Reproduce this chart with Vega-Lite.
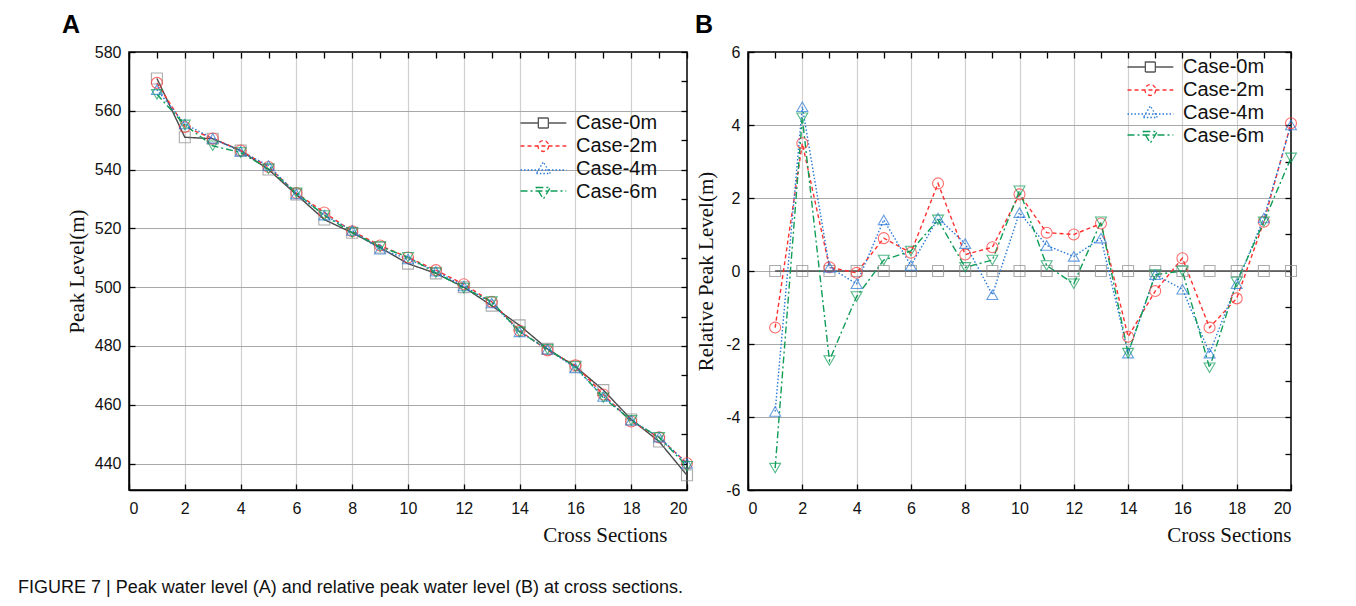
{
  "$schema": "https://vega.github.io/schema/vega-lite/v6.json",
  "background": "white",
  "padding": {"left": 18, "top": 12, "right": 10, "bottom": 6},
  "title": {"text": "FIGURE 7 | Peak water level (A) and relative peak water level (B) at cross sections.", "orient": "bottom", "anchor": "start", "font": "Liberation Sans", "fontSize": 18, "fontWeight": "normal", "color": "#111111", "offset": 33, "dx": -111},
  "config": {
    "view": {"stroke": "#000000", "strokeWidth": 1.5},
    "axis": {"labelFont": "Liberation Sans", "labelFontSize": 16, "labelColor": "#111111", "titleFont": "Liberation Serif", "titleFontSize": 21, "titleFontWeight": "normal", "titleColor": "#111111", "domainColor": "#000000", "domainWidth": 1.5, "tickColor": "#000000", "tickWidth": 1.3, "tickSize": -6, "gridWidth": 1.2},
    "axisX": {"labelPadding": 16, "titlePadding": 8},
    "axisY": {"labelPadding": 14},
    "legend": {"labelFont": "Liberation Sans", "labelFontSize": 20, "labelColor": "#111111", "symbolSize": 400, "symbolStrokeWidth": 1.3, "symbolOpacity": 1, "rowPadding": 2, "labelOffset": 34},
    "title": {"font": "Liberation Sans", "fontSize": 25, "fontWeight": "bold", "color": "#000000", "anchor": "start", "offset": 6, "frame": "group"}
  },
  "datasets": {
    "a": [
      {"section": 1, "case": "Case-0m", "level": 571}, {"section": 2, "case": "Case-0m", "level": 551}, {"section": 3, "case": "Case-0m", "level": 550.5}, {"section": 4, "case": "Case-0m", "level": 546.5}, {"section": 5, "case": "Case-0m", "level": 540}, {"section": 6, "case": "Case-0m", "level": 531.5}, {"section": 7, "case": "Case-0m", "level": 523}, {"section": 8, "case": "Case-0m", "level": 518.5}, {"section": 9, "case": "Case-0m", "level": 513.5}, {"section": 10, "case": "Case-0m", "level": 508}, {"section": 11, "case": "Case-0m", "level": 504.7}, {"section": 12, "case": "Case-0m", "level": 500}, {"section": 13, "case": "Case-0m", "level": 493.7}, {"section": 14, "case": "Case-0m", "level": 487}, {"section": 15, "case": "Case-0m", "level": 479}, {"section": 16, "case": "Case-0m", "level": 473}, {"section": 17, "case": "Case-0m", "level": 465}, {"section": 18, "case": "Case-0m", "level": 455}, {"section": 19, "case": "Case-0m", "level": 447.5}, {"section": 20, "case": "Case-0m", "level": 436},
      {"section": 1, "case": "Case-2m", "level": 569.5}, {"section": 2, "case": "Case-2m", "level": 554.5}, {"section": 3, "case": "Case-2m", "level": 550.6}, {"section": 4, "case": "Case-2m", "level": 546.5}, {"section": 5, "case": "Case-2m", "level": 540.9}, {"section": 6, "case": "Case-2m", "level": 532}, {"section": 7, "case": "Case-2m", "level": 525.4}, {"section": 8, "case": "Case-2m", "level": 519}, {"section": 9, "case": "Case-2m", "level": 514.2}, {"section": 10, "case": "Case-2m", "level": 510.1}, {"section": 11, "case": "Case-2m", "level": 505.8}, {"section": 12, "case": "Case-2m", "level": 501}, {"section": 13, "case": "Case-2m", "level": 495}, {"section": 14, "case": "Case-2m", "level": 485.2}, {"section": 15, "case": "Case-2m", "level": 478.5}, {"section": 16, "case": "Case-2m", "level": 473.4}, {"section": 17, "case": "Case-2m", "level": 463.5}, {"section": 18, "case": "Case-2m", "level": 454.3}, {"section": 19, "case": "Case-2m", "level": 448.9}, {"section": 20, "case": "Case-2m", "level": 440.1},
      {"section": 1, "case": "Case-4m", "level": 567.2}, {"section": 2, "case": "Case-4m", "level": 555.5}, {"section": 3, "case": "Case-4m", "level": 550.6}, {"section": 4, "case": "Case-4m", "level": 546.2}, {"section": 5, "case": "Case-4m", "level": 541.4}, {"section": 6, "case": "Case-4m", "level": 531.7}, {"section": 7, "case": "Case-4m", "level": 524.5}, {"section": 8, "case": "Case-4m", "level": 519.3}, {"section": 9, "case": "Case-4m", "level": 512.9}, {"section": 10, "case": "Case-4m", "level": 509.6}, {"section": 11, "case": "Case-4m", "level": 505.4}, {"section": 12, "case": "Case-4m", "level": 500.4}, {"section": 13, "case": "Case-4m", "level": 494.6}, {"section": 14, "case": "Case-4m", "level": 484.8}, {"section": 15, "case": "Case-4m", "level": 478.9}, {"section": 16, "case": "Case-4m", "level": 472.5}, {"section": 17, "case": "Case-4m", "level": 462.8}, {"section": 18, "case": "Case-4m", "level": 454.7}, {"section": 19, "case": "Case-4m", "level": 449}, {"section": 20, "case": "Case-4m", "level": 440},
      {"section": 1, "case": "Case-6m", "level": 565.6}, {"section": 2, "case": "Case-6m", "level": 555.2}, {"section": 3, "case": "Case-6m", "level": 548.1}, {"section": 4, "case": "Case-6m", "level": 545.8}, {"section": 5, "case": "Case-6m", "level": 540.3}, {"section": 6, "case": "Case-6m", "level": 532.1}, {"section": 7, "case": "Case-6m", "level": 524.4}, {"section": 8, "case": "Case-6m", "level": 518.6}, {"section": 9, "case": "Case-6m", "level": 513.8}, {"section": 10, "case": "Case-6m", "level": 510.2}, {"section": 11, "case": "Case-6m", "level": 504.9}, {"section": 12, "case": "Case-6m", "level": 499.7}, {"section": 13, "case": "Case-6m", "level": 495.1}, {"section": 14, "case": "Case-6m", "level": 484.8}, {"section": 15, "case": "Case-6m", "level": 478.9}, {"section": 16, "case": "Case-6m", "level": 473}, {"section": 17, "case": "Case-6m", "level": 462.4}, {"section": 18, "case": "Case-6m", "level": 454.7}, {"section": 19, "case": "Case-6m", "level": 448.9}, {"section": 20, "case": "Case-6m", "level": 439.1}
    ],
    "b": [
      {"section": 1, "case": "Case-0m", "level": 0}, {"section": 2, "case": "Case-0m", "level": 0}, {"section": 3, "case": "Case-0m", "level": 0}, {"section": 4, "case": "Case-0m", "level": 0}, {"section": 5, "case": "Case-0m", "level": 0}, {"section": 6, "case": "Case-0m", "level": 0}, {"section": 7, "case": "Case-0m", "level": 0}, {"section": 8, "case": "Case-0m", "level": 0}, {"section": 9, "case": "Case-0m", "level": 0}, {"section": 10, "case": "Case-0m", "level": 0}, {"section": 11, "case": "Case-0m", "level": 0}, {"section": 12, "case": "Case-0m", "level": 0}, {"section": 13, "case": "Case-0m", "level": 0}, {"section": 14, "case": "Case-0m", "level": 0}, {"section": 15, "case": "Case-0m", "level": 0}, {"section": 16, "case": "Case-0m", "level": 0}, {"section": 17, "case": "Case-0m", "level": 0}, {"section": 18, "case": "Case-0m", "level": 0}, {"section": 19, "case": "Case-0m", "level": 0}, {"section": 20, "case": "Case-0m", "level": 0},
      {"section": 1, "case": "Case-2m", "level": -1.55}, {"section": 2, "case": "Case-2m", "level": 3.5}, {"section": 3, "case": "Case-2m", "level": 0.1}, {"section": 4, "case": "Case-2m", "level": -0.05}, {"section": 5, "case": "Case-2m", "level": 0.9}, {"section": 6, "case": "Case-2m", "level": 0.5}, {"section": 7, "case": "Case-2m", "level": 2.4}, {"section": 8, "case": "Case-2m", "level": 0.45}, {"section": 9, "case": "Case-2m", "level": 0.65}, {"section": 10, "case": "Case-2m", "level": 2.1}, {"section": 11, "case": "Case-2m", "level": 1.05}, {"section": 12, "case": "Case-2m", "level": 1.0}, {"section": 13, "case": "Case-2m", "level": 1.3}, {"section": 14, "case": "Case-2m", "level": -1.8}, {"section": 15, "case": "Case-2m", "level": -0.55}, {"section": 16, "case": "Case-2m", "level": 0.35}, {"section": 17, "case": "Case-2m", "level": -1.55}, {"section": 18, "case": "Case-2m", "level": -0.75}, {"section": 19, "case": "Case-2m", "level": 1.35}, {"section": 20, "case": "Case-2m", "level": 4.05},
      {"section": 1, "case": "Case-4m", "level": -3.85}, {"section": 2, "case": "Case-4m", "level": 4.5}, {"section": 3, "case": "Case-4m", "level": 0.1}, {"section": 4, "case": "Case-4m", "level": -0.35}, {"section": 5, "case": "Case-4m", "level": 1.4}, {"section": 6, "case": "Case-4m", "level": 0.15}, {"section": 7, "case": "Case-4m", "level": 1.45}, {"section": 8, "case": "Case-4m", "level": 0.75}, {"section": 9, "case": "Case-4m", "level": -0.65}, {"section": 10, "case": "Case-4m", "level": 1.6}, {"section": 11, "case": "Case-4m", "level": 0.7}, {"section": 12, "case": "Case-4m", "level": 0.4}, {"section": 13, "case": "Case-4m", "level": 0.9}, {"section": 14, "case": "Case-4m", "level": -2.25}, {"section": 15, "case": "Case-4m", "level": -0.1}, {"section": 16, "case": "Case-4m", "level": -0.5}, {"section": 17, "case": "Case-4m", "level": -2.25}, {"section": 18, "case": "Case-4m", "level": -0.35}, {"section": 19, "case": "Case-4m", "level": 1.45}, {"section": 20, "case": "Case-4m", "level": 4.0},
      {"section": 1, "case": "Case-6m", "level": -5.4}, {"section": 2, "case": "Case-6m", "level": 4.2}, {"section": 3, "case": "Case-6m", "level": -2.45}, {"section": 4, "case": "Case-6m", "level": -0.7}, {"section": 5, "case": "Case-6m", "level": 0.3}, {"section": 6, "case": "Case-6m", "level": 0.55}, {"section": 7, "case": "Case-6m", "level": 1.4}, {"section": 8, "case": "Case-6m", "level": 0.1}, {"section": 9, "case": "Case-6m", "level": 0.3}, {"section": 10, "case": "Case-6m", "level": 2.2}, {"section": 11, "case": "Case-6m", "level": 0.15}, {"section": 12, "case": "Case-6m", "level": -0.35}, {"section": 13, "case": "Case-6m", "level": 1.35}, {"section": 14, "case": "Case-6m", "level": -2.25}, {"section": 15, "case": "Case-6m", "level": -0.1}, {"section": 16, "case": "Case-6m", "level": 0.0}, {"section": 17, "case": "Case-6m", "level": -2.65}, {"section": 18, "case": "Case-6m", "level": -0.3}, {"section": 19, "case": "Case-6m", "level": 1.35}, {"section": 20, "case": "Case-6m", "level": 3.1}
    ]
  },
  "resolve": {"scale": {"x": "independent", "y": "independent", "stroke": "independent", "shape": "independent", "strokeDash": "independent"}, "legend": {"stroke": "independent", "shape": "independent", "strokeDash": "independent"}},
  "spacing": -4,
  "hconcat": [
    {
      "width": 558, "height": 438,
      "title": {"text": "A", "dx": -67},
      "data": {"name": "a"},
      "resolve": {"scale": {"x": "independent", "y": "independent"}},
      "layer": [
        {
          "layer": [
            {
              "mark": {"type": "line", "strokeWidth": 1.4},
              "encoding": {
                "x": {"field": "section", "type": "quantitative", "scale": {"domain": [0, 20], "nice": false}, "axis": {"values": [0,1,2,3,4,5,6,7,8,9,10,11,12,13,14,15,16,17,18,19,20], "labelExpr": "datum.value % 2 == 0 ? datum.label : ''", "gridColor": {"condition": {"test": "datum.value % 2 == 0 && datum.value > 0 && datum.value < 20", "value": "#cfcfcf"}, "value": "transparent"}, "title": "Cross Sections", "titleAnchor": "end", "titleX": 538}},
                "y": {"field": "level", "type": "quantitative", "scale": {"domain": [431, 580], "nice": false, "zero": false}, "axis": {"values": [440,450,460,470,480,490,500,510,520,530,540,550,560,570,580], "labelExpr": "datum.value % 20 == 0 ? datum.label : ''", "gridColor": {"condition": {"test": "datum.value % 20 == 0 && datum.value < 580", "value": "#a8a8a8"}, "value": "transparent"}, "title": "Peak Level(m)", "titlePadding": 7}},
                "detail": {"field": "case", "type": "nominal"},
                "color": {"condition": [{"test": "datum.case === 'Case-0m'", "value": "#4a4a4a"}, {"test": "datum.case === 'Case-2m'", "value": "#ff3030"}, {"test": "datum.case === 'Case-4m'", "value": "#2878d6"}], "value": "#0f9d58"},
                "strokeDash": {"condition": [{"test": "datum.case === 'Case-2m'", "value": [4, 3]}, {"test": "datum.case === 'Case-4m'", "value": [1.5, 2]}, {"test": "datum.case === 'Case-6m'", "value": [7, 3, 2, 3]}], "value": [1, 0]}
              }
            },
            {
              "mark": {"type": "point", "filled": false, "size": 120, "strokeWidth": 1.1},
              "encoding": {
                "x": {"field": "section", "type": "quantitative"},
                "y": {"field": "level", "type": "quantitative"},
                "shape": {"condition": [{"test": "datum.case === 'Case-0m'", "value": "square"}, {"test": "datum.case === 'Case-2m'", "value": "circle"}, {"test": "datum.case === 'Case-4m'", "value": "triangle-up"}], "value": "triangle-down"},
                "stroke": {"condition": [{"test": "datum.case === 'Case-0m'", "value": "#8a8a8a"}, {"test": "datum.case === 'Case-2m'", "value": "#ff3030"}, {"test": "datum.case === 'Case-4m'", "value": "#2878d6"}], "value": "#0f9d58"}
              }
            }
          ]
        },
        {
          "mark": {"type": "point", "opacity": 0, "filled": false},
          "encoding": {
            "x": {"field": "section", "type": "quantitative", "scale": {"domain": [0, 20], "nice": false}, "axis": {"orient": "top", "values": [0,1,2,3,4,5,6,7,8,9,10,11,12,13,14,15,16,17,18,19,20], "labels": false, "title": null, "grid": false, "domain": false}},
            "y": {"field": "level", "type": "quantitative", "scale": {"domain": [431, 580], "nice": false, "zero": false}, "axis": {"orient": "right", "values": [440,450,460,470,480,490,500,510,520,530,540,550,560,570,580], "labels": false, "title": null, "grid": false, "domain": false}},
            "shape": {"field": "case", "type": "nominal", "scale": {"domain": ["Case-0m", "Case-2m", "Case-4m", "Case-6m"], "range": ["M-1.05,0H0.735M1.735,0H3.53M0.735,-0.5H1.735V0.5H0.735Z", "M-1.05,0H3.53M1.785,0L1.711,0.275L1.51,0.476L1.235,0.55L0.96,0.476L0.759,0.275L0.685,0L0.759,-0.275L0.96,-0.476L1.235,-0.55L1.51,-0.476L1.711,-0.275Z", "M-1.05,0.1H3.53M0.535,0.45H1.935L1.235,-0.7Z", "M-1.05,-0.1H3.53M0.535,-0.45H1.935L1.235,0.7Z"]}, "legend": {"orient": "none", "legendX": 391, "legendY": 60, "title": null}},
            "stroke": {"field": "case", "type": "nominal", "scale": {"domain": ["Case-0m", "Case-2m", "Case-4m", "Case-6m"], "range": ["#555555", "#ff3030", "#2878d6", "#0f9d58"]}, "legend": {"orient": "none", "legendX": 391, "legendY": 60, "title": null}},
            "strokeDash": {"field": "case", "type": "nominal", "scale": {"domain": ["Case-0m", "Case-2m", "Case-4m", "Case-6m"], "range": [[1, 0], [4, 3], [1.5, 2], [7, 3, 2, 3]]}, "legend": {"orient": "none", "legendX": 391, "legendY": 60, "title": null}}
          }
        }
      ]
    },
    {
      "width": 543, "height": 438,
      "title": {"text": "B", "dx": -53},
      "data": {"name": "b"},
      "resolve": {"scale": {"x": "independent", "y": "independent"}},
      "layer": [
        {
          "layer": [
            {
              "mark": {"type": "line", "strokeWidth": 1.4},
              "encoding": {
                "x": {"field": "section", "type": "quantitative", "scale": {"domain": [0, 20], "nice": false}, "axis": {"values": [0,1,2,3,4,5,6,7,8,9,10,11,12,13,14,15,16,17,18,19,20], "labelExpr": "datum.value % 2 == 0 ? datum.label : ''", "gridColor": {"condition": {"test": "datum.value % 2 == 0 && datum.value > 0 && datum.value < 20", "value": "#cfcfcf"}, "value": "transparent"}, "title": "Cross Sections", "titleAnchor": "end"}},
                "y": {"field": "level", "type": "quantitative", "scale": {"domain": [-6, 6], "nice": false, "zero": false}, "axis": {"values": [-6,-5,-4,-3,-2,-1,0,1,2,3,4,5,6], "labelExpr": "datum.value % 2 == 0 ? '' + datum.value : ''", "gridColor": {"condition": {"test": "datum.value % 2 == 0 && datum.value > -6 && datum.value < 6", "value": "#a8a8a8"}, "value": "transparent"}, "title": "Relative Peak Level(m)", "titlePadding": 9}},
                "detail": {"field": "case", "type": "nominal"},
                "color": {"condition": [{"test": "datum.case === 'Case-0m'", "value": "#4a4a4a"}, {"test": "datum.case === 'Case-2m'", "value": "#ff3030"}, {"test": "datum.case === 'Case-4m'", "value": "#2878d6"}], "value": "#0f9d58"},
                "strokeDash": {"condition": [{"test": "datum.case === 'Case-2m'", "value": [4, 3]}, {"test": "datum.case === 'Case-4m'", "value": [1.5, 2]}, {"test": "datum.case === 'Case-6m'", "value": [7, 3, 2, 3]}], "value": [1, 0]}
              }
            },
            {
              "mark": {"type": "point", "filled": false, "size": 120, "strokeWidth": 1.1},
              "encoding": {
                "x": {"field": "section", "type": "quantitative"},
                "y": {"field": "level", "type": "quantitative"},
                "shape": {"condition": [{"test": "datum.case === 'Case-0m'", "value": "square"}, {"test": "datum.case === 'Case-2m'", "value": "circle"}, {"test": "datum.case === 'Case-4m'", "value": "triangle-up"}], "value": "triangle-down"},
                "stroke": {"condition": [{"test": "datum.case === 'Case-0m'", "value": "#8a8a8a"}, {"test": "datum.case === 'Case-2m'", "value": "#ff3030"}, {"test": "datum.case === 'Case-4m'", "value": "#2878d6"}], "value": "#0f9d58"}
              }
            }
          ]
        },
        {
          "mark": {"type": "point", "opacity": 0, "filled": false},
          "encoding": {
            "x": {"field": "section", "type": "quantitative", "scale": {"domain": [0, 20], "nice": false}, "axis": {"orient": "top", "values": [0,1,2,3,4,5,6,7,8,9,10,11,12,13,14,15,16,17,18,19,20], "labels": false, "title": null, "grid": false, "domain": false}},
            "y": {"field": "level", "type": "quantitative", "scale": {"domain": [-6, 6], "nice": false, "zero": false}, "axis": {"orient": "right", "values": [-6,-5,-4,-3,-2,-1,0,1,2,3,4,5,6], "labels": false, "title": null, "grid": false, "domain": false}},
            "shape": {"field": "case", "type": "nominal", "scale": {"domain": ["Case-0m", "Case-2m", "Case-4m", "Case-6m"], "range": ["M-1.05,0H0.735M1.735,0H3.53M0.735,-0.5H1.735V0.5H0.735Z", "M-1.05,0H3.53M1.785,0L1.711,0.275L1.51,0.476L1.235,0.55L0.96,0.476L0.759,0.275L0.685,0L0.759,-0.275L0.96,-0.476L1.235,-0.55L1.51,-0.476L1.711,-0.275Z", "M-1.05,0.1H3.53M0.535,0.45H1.935L1.235,-0.7Z", "M-1.05,-0.1H3.53M0.535,-0.45H1.935L1.235,0.7Z"]}, "legend": {"orient": "none", "legendX": 379, "legendY": 4, "title": null}},
            "stroke": {"field": "case", "type": "nominal", "scale": {"domain": ["Case-0m", "Case-2m", "Case-4m", "Case-6m"], "range": ["#555555", "#ff3030", "#2878d6", "#0f9d58"]}, "legend": {"orient": "none", "legendX": 379, "legendY": 4, "title": null}},
            "strokeDash": {"field": "case", "type": "nominal", "scale": {"domain": ["Case-0m", "Case-2m", "Case-4m", "Case-6m"], "range": [[1, 0], [4, 3], [1.5, 2], [7, 3, 2, 3]]}, "legend": {"orient": "none", "legendX": 379, "legendY": 4, "title": null}}
          }
        }
      ]
    }
  ]
}
